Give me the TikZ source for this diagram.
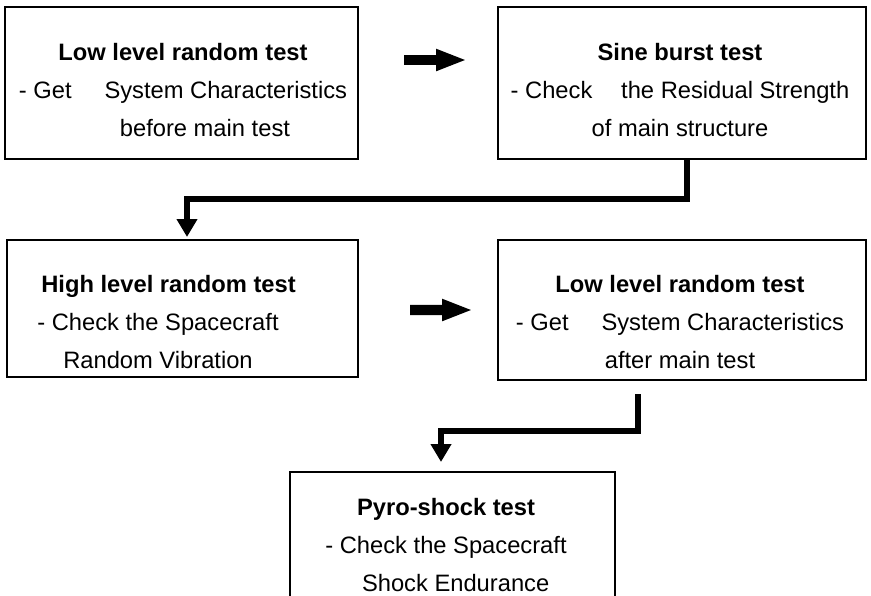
\documentclass[tikz,border=0pt]{standalone}
\usepackage{fontspec}
\setmainfont{Liberation Sans}
\usetikzlibrary{arrows.meta,calc}

\begin{document}
\begin{tikzpicture}[x=0.02cm,y=-0.02cm,
  stage/.style={draw,line width=1.2pt,inner sep=0pt},
  txt/.style={align=center,font=\fontsize{13.5}{21.5}\selectfont},
  push/.style={line width=5.7pt,-{Triangle[length=17.6pt,width=11.3pt]}},
  flow/.style={line width=3.8pt,line join=miter,-{Triangle[length=10.2pt,width=11.3pt]}}]
  \useasboundingbox (0,0) rectangle (871,595);
  \clip (0,0) rectangle (871,595);
  % test boxes
  \node[stage,minimum width=7.06cm,minimum height=3.04cm] (lowA) at (181.5,83) {};
  \node[stage,minimum width=7.36cm,minimum height=3.04cm] (sine) at (682,83) {};
  \node[stage,minimum width=7.02cm,minimum height=2.74cm] (highA) at (182.5,308.5) {};
  \node[stage,minimum width=7.36cm,minimum height=2.80cm] (lowB) at (682,310) {};
  \node[stage,minimum width=6.50cm,minimum height=2.80cm] (pyro) at (452.5,542) {};
  % texts
  \node[txt] (lowAtxt) at (183,90) {\textbf{Low level random test}\\- Get\hspace{18.7pt}System Characteristics\\\hspace*{25pt}before main test};
  \node[txt] (sinetxt) at (680,90) {\textbf{Sine burst test}\\- Check\hspace{16.4pt}the Residual Strength\\of main structure};
  \node[txt] (highAtxt) at (158,322) {\hspace*{12pt}\textbf{High level random test}\\- Check the Spacecraft\\Random Vibration};
  \node[txt] (lowBtxt) at (680,322) {\textbf{Low level random test}\\- Get\hspace{18.7pt}System Characteristics\\after main test};
  \node[txt] (pyrotxt) at (446,545) {\textbf{Pyro-shock test}\\- Check the Spacecraft\\\hspace*{11pt}Shock Endurance};
  % arrows
  \draw[push] ($(lowA.east)+(45,-23)$) -- ($(sine.west)+(-30,-23)$);
  \draw[push] ($(highA.east)+(51,1.5)$) -- ($(lowB.west)+(-24,0)$);
  \coordinate (bend1) at (187,199);
  \coordinate (bend2) at (441,431);
  \draw[flow] ($(sine.south)+(5,0)$) |- (bend1) -- ([yshift=0.04cm]bend1 |- highA.north);
  \draw[flow] ($(lowB.south)+(-44,13)$) |- (bend2) -- ([yshift=0.18cm]bend2 |- pyro.north);
\end{tikzpicture}
\end{document}
